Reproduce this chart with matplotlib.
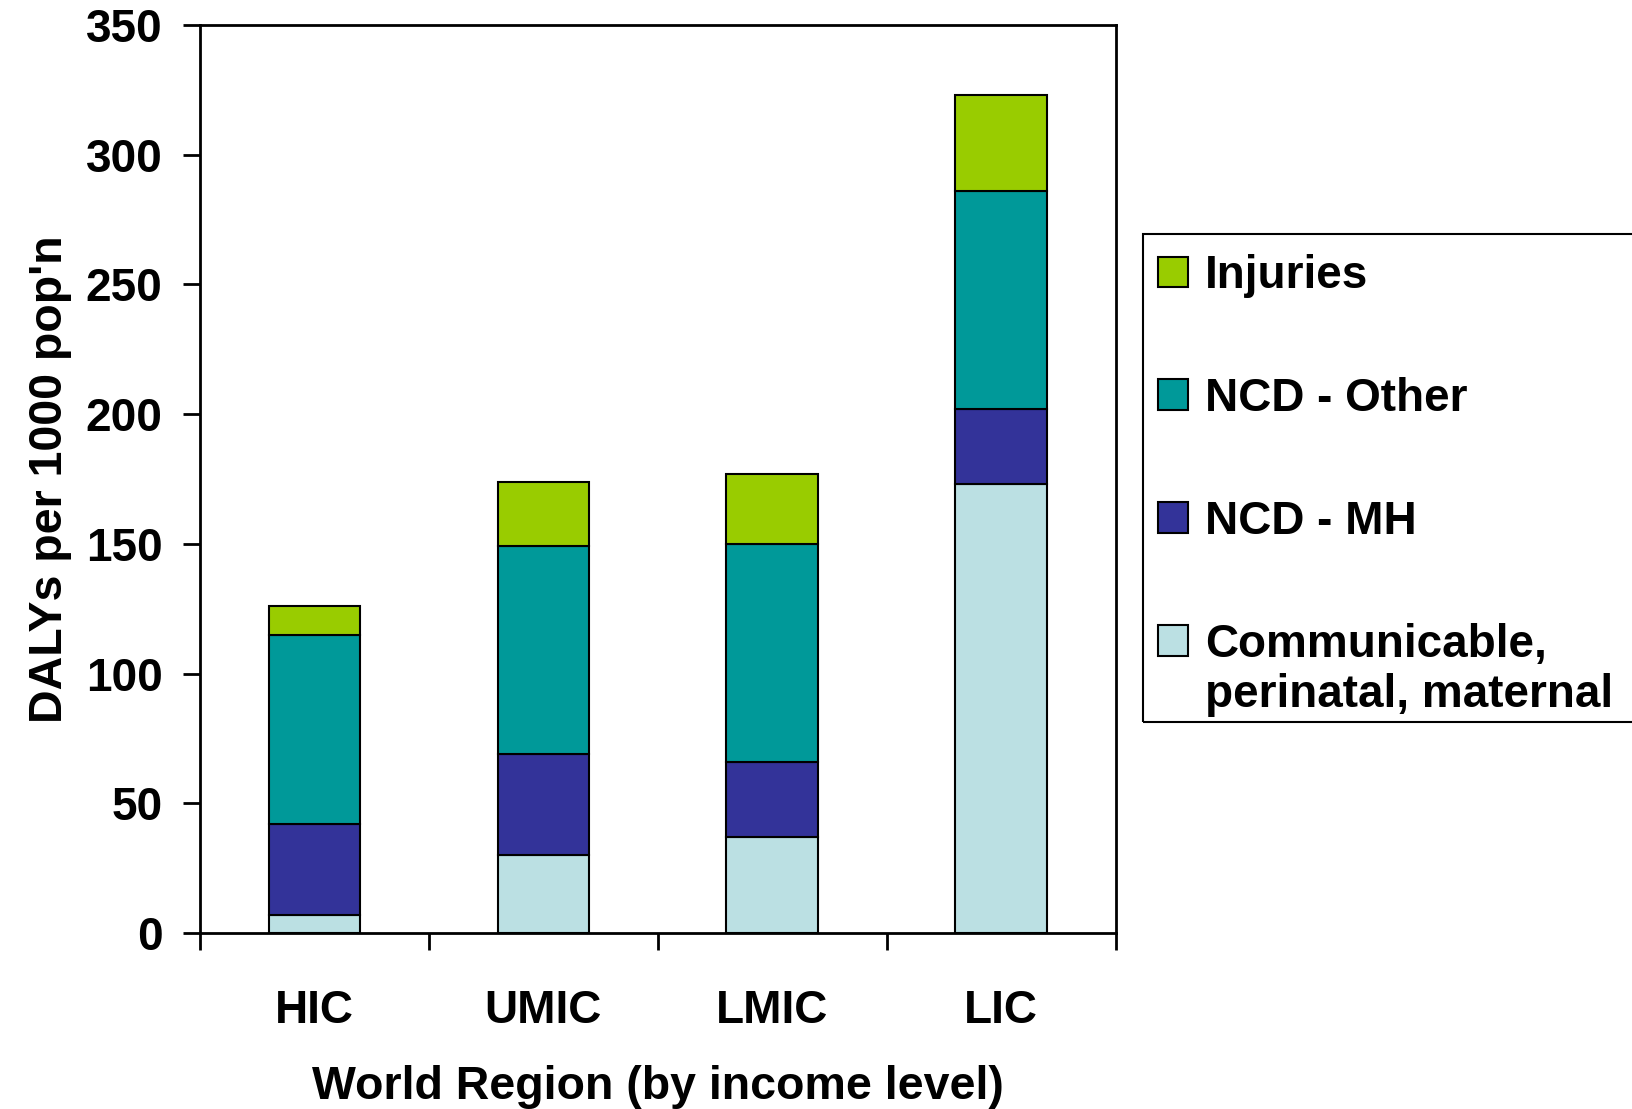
import matplotlib
matplotlib.use("Agg")
import matplotlib.pyplot as plt
import numpy as np
from matplotlib.patches import Rectangle

plt.rcParams['font.family'] = ['Liberation Sans', 'DejaVu Sans']
plt.rcParams['font.weight'] = 'bold'

regions = ['HIC', 'UMIC', 'LMIC', 'LIC']
communicable = [7, 30, 37, 173]
ncd_mh = [35, 39, 29, 29]
ncd_other = [73, 80, 84, 84]
injuries = [11, 25, 27, 37]

series = [
    ('Communicable,\nperinatal, maternal', communicable, '#BBE0E3'),
    ('NCD - MH', ncd_mh, '#333399'),
    ('NCD - Other', ncd_other, '#009999'),
    ('Injuries', injuries, '#99CC00'),
]

fig = plt.figure(figsize=(16.33, 11.09), dpi=100)
ax = fig.add_axes([0.1225, 0.1587, 0.5606, 0.8188])

x = np.arange(len(regions))
bottom = np.zeros(len(regions))
handles = []
for label, vals, color in series:
    b = ax.bar(x, vals, width=0.4, bottom=bottom, color=color,
               edgecolor='black', linewidth=1.5, label=label)
    handles.append(b)
    bottom += np.array(vals)

ax.set_xlim(-0.5, 3.5)
ax.set_ylim(0, 350)
ax.set_yticks(range(0, 351, 50))
ax.set_xticks(x)
ax.set_xticklabels(regions, fontsize=33, fontweight='bold')
ax.set_xticks(np.arange(-0.5, 3.6, 1), minor=True)
ax.tick_params(axis='x', which='major', length=0, pad=40)
ax.tick_params(axis='x', which='minor', length=12, width=2, direction='out')
ax.tick_params(axis='y', length=12, width=2, direction='out', pad=15, labelsize=33)
for lab in ax.get_yticklabels():
    lab.set_fontweight('bold')
for s in ax.spines.values():
    s.set_linewidth(2)

ax.set_xlabel('World Region (by income level)', fontsize=33.5, fontweight='bold', labelpad=23)
ax.set_ylabel("DALYs per 1000 pop'n", fontsize=33.5, fontweight='bold', labelpad=10)

# legend frame runs off the right edge of the figure
fig.patches.append(Rectangle((1143 / 1633, 1 - 722 / 1109), 0.4, (722 - 234) / 1109,
                             transform=fig.transFigure, fill=False,
                             edgecolor='black', linewidth=1.5, zorder=1))

leg = fig.legend(handles[::-1], [s[0] for s in series[::-1]],
                 loc='upper left', bbox_to_anchor=(1158 / 1633, 1 - 254 / 1109),
                 bbox_transform=fig.transFigure, frameon=False,
                 prop={'size': 33, 'weight': 'bold'},
                 borderpad=0, borderaxespad=0, handlelength=0.65, handleheight=0.65,
                 handletextpad=0.37, labelspacing=1.72)
for h in leg.legend_handles:
    h.set_linewidth(1.5)
# put the last swatch level with the first line of its two-line label
last = leg.legend_handles[-1]
last.set_y(last.get_y() + 22)

fig.savefig('out.png', dpi=100)
